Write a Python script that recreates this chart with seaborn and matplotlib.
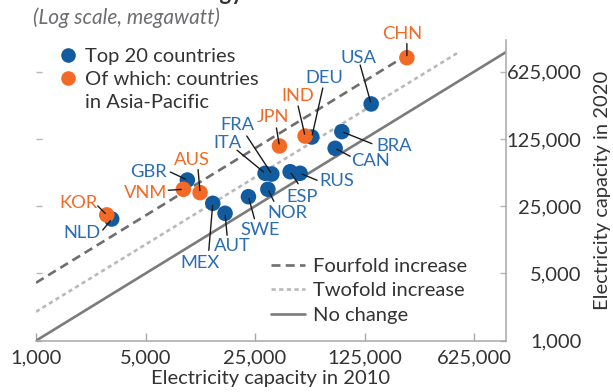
import numpy as np
import pandas as pd
import matplotlib
matplotlib.use("Agg")
import matplotlib.pyplot as plt
from matplotlib.lines import Line2D
from matplotlib.ticker import FixedLocator, NullLocator, FixedFormatter
import seaborn as sns

# ---------------- data ----------------
countries = ["NLD", "GBR", "MEX", "AUT", "SWE", "NOR", "ITA", "FRA", "ESP", "RUS",
             "DEU", "CAN", "BRA", "USA", "KOR", "VNM", "AUS", "JPN", "IND", "CHN"]
cap_2010 = [3044, 9250, 13440, 16100, 22700, 30200, 29000, 32000, 41900, 48500,
            57600, 81200, 89600, 137800, 2829, 8720, 11150, 35800, 52200, 233000]
cap_2020 = [18400, 46800, 26800, 21100, 31400, 37500, 55000, 54000, 57100, 55000,
            131000, 100000, 149000, 289000, 20300, 37500, 34600, 105700, 134000, 875000]
asia_pacific = ["KOR", "VNM", "AUS", "JPN", "IND", "CHN"]
tick_values = [1000, 5000, 25000, 125000, 625000]
tick_labels = ["1,000", "5,000", "25,000", "125,000", "625,000"]
ref_multipliers = [4, 2, 1]
ref_labels = ["Fourfold increase", "Twofold increase", "No change"]
dot_legend_labels = ["Top 20 countries", "Of which: countries", "in Asia-Pacific"]

# label placement (pixel offsets from point: text centre, leader start)
label_offsets = {
    "KOR": ((-28, -12), (-9, -9)), "NLD": ((-30, 14), (-9, 11)),
    "GBR": ((-39, -8), (-17, -8)), "VNM": ((-38, 4), (-15, 1)),
    "AUS": ((-8, -33), (-2, -23)), "MEX": ((-13, 60), (-4, 47)),
    "AUT": ((7, 33), (2, 22)), "SWE": ((12, 33), (6, 22)),
    "NOR": ((20, 24), (6, 12)), "ESP": ((12, 25), (8, 12)),
    "ITA": ((-38, -30), (-28, -23)), "FRA": ((-34, -49), (-25, -38)),
    "JPN": ((-6, -29), (-3, -18)), "IND": ((-7, -40), (-7, -30)),
    "DEU": ((13, -59), (11, -49)), "USA": ((-13, -46), (-11, -39)),
    "CHN": ((-5, -24), (0, -14)), "BRA": ((52, 14), (30, 12)),
    "CAN": ((35, 13), (15, 8)), "RUS": ((37, 8), (17, 7)),
}

BLUE = "#135b9f"
BLUE_TXT = "#2a6db3"
ORANGE = "#f36a26"
TXT = "#333333"

df = pd.DataFrame({"country": countries, "c2010": cap_2010, "c2020": cap_2020})
df["group"] = np.where(df["country"].isin(asia_pacific), "asia", "top20")

# ---------------- figure ----------------
sns.set_theme(style="white")
plt.rcParams["font.family"] = ["Lato", "DejaVu Sans"]

W, H = 613, 392
fig = plt.figure(figsize=(W / 100, H / 100), dpi=100)
ax = fig.add_axes([36 / W, (H - 340.7) / H, (506 - 36) / W, (340.7 - 40) / H])
ax.set_xscale("log")
ax.set_yscale("log")
ax.set_xlim(1000, 1e6)
ax.set_ylim(1000, 1.336e6)

# reference lines
styles = [dict(color="#6e6e6e", linestyle=(0, (3.4, 2.0))),
          dict(color="#b9b9b9", linestyle=(0, (1.6, 1.3))),
          dict(color="#7b7b7b", linestyle="-")]
for m, st, lab in zip(ref_multipliers, styles, ref_labels):
    xs = np.array([1000, 1e6 / m])
    sns.lineplot(x=xs, y=xs * m, ax=ax, lw=1.9, zorder=2, **st)

# points (blue first, Asia-Pacific on top)
sns.scatterplot(data=df, x="c2010", y="c2020", hue="group",
                palette={"top20": BLUE, "asia": ORANGE},
                s=125, linewidth=0, legend=False, ax=ax, zorder=3)

# labels with leader lines
for _, r in df.iterrows():
    (tx, ty), (lx, ly) = label_offsets[r["country"]]
    col = ORANGE if r["group"] == "asia" else BLUE_TXT
    ax.annotate(r["country"], xy=(r["c2010"], r["c2020"]), xytext=(tx, -ty),
                textcoords="offset pixels", ha="center", va="center",
                fontsize=13.2, color=col, zorder=5)
    ax.annotate("", xy=(r["c2010"], r["c2020"]), xytext=(lx, -ly),
                textcoords="offset pixels",
                arrowprops=dict(arrowstyle="-", color="#1a1a1a", lw=1.0,
                                shrinkA=0, shrinkB=1.5), zorder=4)

# axes styling
for s in ["top", "left"]:
    ax.spines[s].set_visible(False)
for s in ["bottom", "right"]:
    ax.spines[s].set_color("#a8a8a8")
    ax.spines[s].set_linewidth(1.1)

for axis in (ax.xaxis, ax.yaxis):
    axis.set_major_locator(FixedLocator(tick_values))
    axis.set_major_formatter(FixedFormatter(tick_labels))
    axis.set_minor_locator(NullLocator())

ax.tick_params(axis="x", which="major", direction="in", length=5.5, width=1,
               color="#a8a8a8", labelsize=14.5, labelcolor=TXT, pad=6, bottom=True)
ax.tick_params(axis="y", which="major", direction="in", length=4.5, width=1,
               color="#b5b5b5", labelsize=14.5, labelcolor=TXT, pad=54.5,
               left=True, right=True, labelleft=False, labelright=True)
for t in ax.get_yticklabels():
    t.set_horizontalalignment("right")

ax.set_xlabel("Electricity capacity in 2010", fontsize=14.5, color=TXT, labelpad=3)
ax.set_ylabel("Electricity capacity in 2020", fontsize=14.5, color=TXT)
ax.yaxis.set_label_position("right")
ax.yaxis.set_label_coords((603 - 36) / 470, 0.5)
ax.yaxis.label.set_verticalalignment("center")
ax.yaxis.label.set_horizontalalignment("center")

# legends
h1 = [Line2D([], [], marker="o", ls="", color=BLUE, markersize=10.5, markeredgewidth=0),
      Line2D([], [], marker="o", ls="", color=ORANGE, markersize=10.5, markeredgewidth=0),
      Line2D([], [], marker="", ls="", color="none")]
leg1 = ax.legend(h1, dot_legend_labels,
                 loc="upper left", bbox_to_anchor=(60 / W, (H - 48) / H),
                 bbox_transform=fig.transFigure, frameon=False, fontsize=14.5,
                 handlelength=0.8, handletextpad=0.45, labelspacing=0.3,
                 borderpad=0, borderaxespad=0)
for t in leg1.get_texts():
    t.set_color(TXT)
ax.add_artist(leg1)

h2 = [Line2D([], [], lw=1.9, **st) for st in styles]
leg2 = ax.legend(h2, ref_labels, loc="upper left",
                 bbox_to_anchor=(271 / W, (H - 258) / H),
                 bbox_transform=fig.transFigure, frameon=False, fontsize=14.5,
                 handlelength=1.7, handletextpad=0.4, labelspacing=0.36,
                 borderpad=0, borderaxespad=0)
for t in leg2.get_texts():
    t.set_color(TXT)

# title (cut off at top, as in the source) and subtitle
fig.text(243 / W, (H - 0.5) / H, "Renewable energy", ha="right", va="baseline",
         fontsize=16, fontweight="bold", color="#333333")
fig.text(33 / W, (H - 18) / H, "(Log scale, megawatt)", ha="left", va="center",
         fontsize=15, fontstyle="italic", color="#6d6e71")

fig.savefig("out.png", dpi=100)
